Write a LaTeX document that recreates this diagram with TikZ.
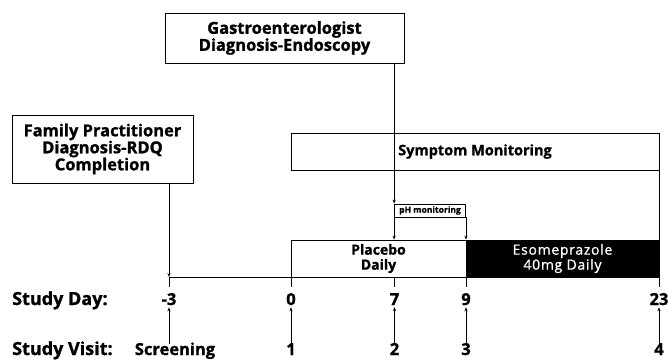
\documentclass[tikz,border=0pt]{standalone}
\usepackage{fontspec}
\setmainfont{Open Sans}[BoldFeatures={FakeBold=1.2}]
\usetikzlibrary{arrows.meta}
\begin{document}
\begin{tikzpicture}[x=1pt,y=-1pt,
  box/.style={draw,line width=0.8pt,rectangle,inner sep=0pt,align=center,font=\bfseries\fontsize{16.5}{17}\selectfont},
  lbl/.style={inner sep=0pt,anchor=base,font=\bfseries\fontsize{16.5}{17}\selectfont},
  row/.style={lbl,anchor=base west,font=\bfseries\fontsize{18}{18}\selectfont},
  arr/.style={line width=0.8pt,-{Stealth[length=4pt,width=3.2pt]}},
  ln/.style={line width=0.8pt}]
\useasboundingbox (0,0) rectangle (668,359);
% boxes
\node[box,minimum width=239pt,minimum height=50pt] (gastro) at (284.5,38) {Gastroenterologist\\Diagnosis-Endoscopy};
\node[box,minimum width=181pt,minimum height=68pt] (family) at (102.5,149) {Family Practitioner\\Diagnosis-RDQ\\Completion};
\node[box,minimum width=368pt,minimum height=37pt,font=\bfseries\fontsize{14.5}{15}\selectfont] (symptom) at (475,151.5) {Symptom Monitoring};
\node[box,minimum width=71pt,minimum height=13pt,font=\bfseries\fontsize{8.5}{9}\selectfont] (ph) at (430,210.5) {pH monitoring};
\node[box,minimum width=175pt,minimum height=37pt,font=\bfseries\fontsize{14}{15}\selectfont] (placebo) at (378.5,258.5) {Placebo\\Daily};
\node[box,minimum width=193pt,minimum height=37pt,fill=black,text=white,font=\fontsize{14}{15}\selectfont\addfontfeature{LetterSpace=5,FakeBold=1}] (eso) at (562.5,258.5) {Esomeprazole\\40mg Daily};
% timeline coordinates
\coordinate (dm3) at (169,277);
\coordinate (d0) at (291,277);
\coordinate (d7) at (394.5,277);
\coordinate (d9) at (466,277);
\coordinate (d23) at (659,277);
% row labels
\node[row] (sday) at (12,305) {Study Day:};
\node[row] (svisit) at (12,355) {Study Visit:};
% day labels
\node[lbl] (lm3) at (169,305) {-3};
\node[lbl] (l0) at (291,305) {0};
\node[lbl] (l7) at (394.5,305) {7};
\node[lbl] (l9) at (466,305) {9};
\node[lbl] (l23) at (659,305) {23};
% visit labels
\node[lbl] (vs) at (175,355) {Screening};
\node[lbl] (v1) at (291,355) {1};
\node[lbl] (v2) at (394.5,355) {2};
\node[lbl] (v3) at (466,355) {3};
\node[lbl] (v4) at (659,355) {4};
% connectors
\draw[arr] (gastro.south -| ph.north west) -- (ph.north west);
\draw[arr] (ph.south west) -- (ph.south west |- placebo.north);
\draw[arr] (ph.south east) -- (ph.south east |- placebo.north);
\draw[ln] (symptom.south east) -- (eso.north east);
\draw[arr] (dm3 |- family.south) -- (dm3);
\draw[ln] (dm3) -- (d0);
\foreach \c in {dm3,d0,d7,d9,d23} \draw[ln] (\c) -- ++(0,10);
\draw[arr] ([yshift=-2pt]vs.north -| lm3) -- ([yshift=-2pt]lm3.south);
\draw[arr] ([yshift=-2pt]v1.north) -- ([yshift=-2pt]l0.south);
\draw[arr] ([yshift=-2pt]v2.north) -- ([yshift=-2pt]l7.south);
\draw[arr] ([yshift=-2pt]v3.north) -- ([yshift=-2pt]l9.south);
\draw[arr] ([yshift=-2pt]v4.north) -- ([yshift=-2pt]l23.south);
\end{tikzpicture}
\end{document}
